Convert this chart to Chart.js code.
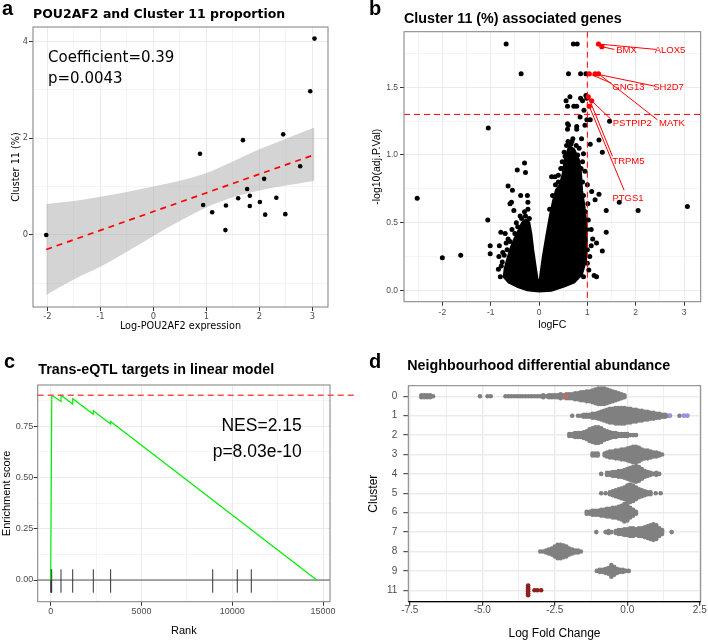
<!DOCTYPE html>
<html>
<head>
<meta charset="utf-8">
<title>POU2AF2 / Cluster 11 figure</title>
<script src="https://cdn.jsdelivr.net/npm/chart.js@4.4.1/dist/chart.umd.min.js"></script>
<style>
  html, body { margin:0; padding:0; background:#ffffff; }
  #fig { position:relative; width:708px; height:641px; overflow:hidden; background:#fff; }
  #fig canvas { position:absolute; }
</style>
</head>
<body>
<div id="fig">
  <canvas id="panelA" width="354" height="340" style="left:0px;top:0px;width:354px;height:340px"></canvas>
  <canvas id="panelB" width="354" height="340" style="left:354px;top:0px;width:354px;height:340px"></canvas>
  <canvas id="panelC" width="354" height="301" style="left:0px;top:340px;width:354px;height:301px"></canvas>
  <canvas id="panelD" width="354" height="301" style="left:354px;top:340px;width:354px;height:301px"></canvas>
</div>
<script>
// ================= DATA =================
// ---- Panel a: POU2AF2 vs Cluster 11 proportion ----
const aExpr = [-2.02, 0.88, 1.69, 2.45, 2.96, 3.04, 2.77, 2.09, 1.77, 1.82, 1.60, 2.32, 0.94, 1.37, 1.82, 2.01, 1.11, 2.11, 2.49, 1.36];
const aProp = [0.00, 1.68, 1.96, 2.08, 2.97, 4.06, 1.42, 1.16, 0.95, 0.81, 0.76, 0.77, 0.62, 0.61, 0.60, 0.68, 0.47, 0.42, 0.43, 0.10];
const aFitX = [-2.02, 3.04];
const aFitY = [-0.30, 1.66];
const aBandX  = [-2.02, -1.5, -1, -0.5, 0, 0.5, 1, 1.5, 2, 2.5, 3.04];
const aBandHi = [0.64, 0.70, 0.79, 0.89, 1.00, 1.12, 1.28, 1.52, 1.77, 1.99, 2.22];
const aBandLo = [-1.24, -0.92, -0.66, -0.35, -0.02, 0.29, 0.57, 0.78, 0.92, 1.02, 1.12];
const aXGrid = [-2, -1.5, -1, -0.5, 0, 0.5, 1, 1.5, 2, 2.5, 3];
const aXTicks = [-2, -1, 0, 1, 2, 3];
const aYGrid = [-1, 0, 1, 2, 3, 4];
const aYTicks = [0, 2, 4];

// ---- Panel b: volcano ----
const volcFC = [-0.68, 0.71, 0.79, -0.37, 0.61, 0.86, 0.97, -1.05, 0.56, 0.64, 0.59, 0.72, 0.78, 0.86, 0.90, 0.97, 0.93, 0.99,
  0.59, 0.59, 0.85, 0.78, 0.95, 1.06, 1.46, 1.24, 0.57, 0.77, 0.92, 1.06, 1.31, 0.54, 0.61, 0.78, 0.99, 0.70, 0.88,
  0.45, 0.40, 0.26, 0.33, 0.95, 1.00, 1.24, 1.09, 1.16, 1.01, 1.39, 1.66, 2.05, 3.07, 1.39, 1.31, 1.08, 1.08, 1.19,
  1.14, 1.19, 1.05, 1.02, 1.11, 1.03, 0.48, 0.66, 0.83, 0.90, 0.60,
  -2.52, -2.00, -1.62, -1.06, -1.01, -1.01, -0.83, -0.79, -0.84, -0.64, -0.60, -0.45, -0.30, -0.28, -0.38, -0.55,
  -0.24, -0.23, -0.23, -0.39, -0.57, -0.52, -0.70, -0.82, -0.76, -0.64, -0.75, -0.68, -0.47, -0.56, -0.30,
  -0.80, -0.78, -0.72, -0.66, -0.60, -0.50, -0.44, -0.36, -0.28, -0.20,
  0.92, 1.00, 1.00, 0.99, 0.96, 0.92, 0.90, 0.87, 0.80, 0.68, 0.60, 0.52, 0.47, 0.40, 0.34, 0.28, 0.22];
const volcP = [1.82, 1.82, 1.82, 1.60, 1.60, 1.60, 1.60, 1.20, 1.40, 1.43, 1.36, 1.36, 1.36, 1.42, 1.40, 1.44, 1.33, 1.42,
  1.23, 1.19, 1.28, 1.19, 1.22, 1.26, 1.25, 1.11, 1.07, 1.07, 1.01, 1.08, 1.02, 0.99, 1.22, 1.21, 1.26, 1.12, 1.12,
  0.90, 0.85, 0.84, 0.84, 0.88, 0.78, 0.71, 0.73, 0.67, 0.64, 0.59, 0.65, 0.59, 0.62, 0.43, 0.29, 0.45, 0.33, 0.35,
  0.11, 0.10, 0.25, 0.52, 0.38, 0.15, 0.95, 1.08, 1.05, 0.95, 1.00,
  0.68, 0.24, 0.26, 0.52, 0.33, 0.27, 0.25, 0.43, 0.155, 0.77, 0.64, 0.89, 0.94, 0.87, 0.70, 0.74,
  0.70, 0.65, 0.60, 0.55, 0.65, 0.59, 0.42, 0.33, 0.21, 0.38, 0.28, 0.35, 0.50, 0.45, 0.58,
  0.10, 0.18, 0.26, 0.30, 0.36, 0.42, 0.47, 0.53, 0.55, 0.53,
  0.10, 0.20, 0.30, 0.45, 0.58, 0.70, 0.80, 0.90, 1.00, 1.10, 1.10, 1.02, 0.90, 0.80, 0.78, 0.70, 0.60];
// outline of the dense, fully overlapping mass of genes near logFC 0
const coreFC = [0.00, 0.25, 0.50, 0.72, 0.88, 0.96, 0.98, 0.97, 0.93, 0.88, 0.86, 0.82, 0.72, 0.63, 0.55, 0.50, 0.44, 0.36, 0.30, 0.24, 0.16, 0.09, 0.04, 0.015, -0.01, -0.04, -0.09, -0.13, -0.17, -0.21, -0.27, -0.34, -0.42, -0.50, -0.57, -0.64, -0.70, -0.72, -0.62, -0.45, -0.25, 0.00];
const coreP  = [-0.005, 0.00, 0.03, 0.06, 0.12, 0.22, 0.35, 0.50, 0.62, 0.74, 0.86, 0.96, 1.04, 1.06, 0.98, 0.86, 0.78, 0.74, 0.66, 0.56, 0.40, 0.25, 0.12, 0.05, 0.04, 0.08, 0.20, 0.30, 0.42, 0.50, 0.52, 0.50, 0.44, 0.38, 0.32, 0.24, 0.16, 0.10, 0.06, 0.03, 0.005, -0.005];
const geneName = ['ALOX5', 'BMX', 'GNG13', 'SH2D7', 'MATK', 'PSTPIP2', 'TRPM5', 'PTGS1'];
const geneFC   = [1.23, 1.30, 1.04, 1.16, 1.23, 1.09, 1.02, 1.04];
const geneP    = [1.82, 1.80, 1.60, 1.60, 1.60, 1.40, 1.43, 1.36];
const fcCut = 1;
const sigCut = 1.3;
const bXGrid = [-2.5, -2, -1.5, -1, -0.5, 0, 0.5, 1, 1.5, 2, 2.5, 3];
const bXTicks = [-2, -1, 0, 1, 2, 3];
const bYGrid = [0, 0.25, 0.5, 0.75, 1, 1.25, 1.5, 1.75];
const bYTicks = [0, 0.5, 1, 1.5];

// ---- Panel c: running enrichment score ----
const esRank  = [0, 60, 567, 567, 1211, 1211, 2346, 2346, 3300, 3300, 14650];
const esScore = [0, 0.900, 0.870, 0.900, 0.857, 0.883, 0.807, 0.825, 0.760, 0.772, 0.0];
const hitRank = [5, 30, 55, 567, 1211, 2346, 3300, 8920, 10275, 11046];
const cXGrid = [0, 2500, 5000, 7500, 10000, 12500, 15000];
const cXTicks = [0, 5000, 10000, 15000];
const cYGrid = [0, 0.125, 0.25, 0.375, 0.5, 0.625, 0.75, 0.875];
const cYTicks = [0, 0.25, 0.5, 0.75];

// ---- Panel d: neighbourhood log fold change per cluster ([logFC, number of neighbourhoods]) ----
const dClusters = ['0', '1', '2', '3', '4', '5', '6', '7', '8', '9', '11'];
const nh0 = [[-7.1,2],[-7.0,2],[-6.9,2],[-6.8,2],[-6.7,1],[-5.08,1],[-4.82,1],[-4.71,1],[-4.2,1],[-4.1,1],[-4.0,1],[-3.9,1],[-3.8,1],[-3.7,1],[-3.6,1],[-3.5,1],[-3.4,1],[-3.3,1],[-3.2,1],[-3.1,1],[-3.0,1],[-2.9,2],[-2.8,1],[-2.7,2],[-2.6,2],[-2.5,2],[-2.4,2],[-2.3,3],[-2.2,2],[-2.1,3],[-2.0,3],[-1.9,3],[-1.8,4],[-1.7,4],[-1.6,5],[-1.5,5],[-1.4,6],[-1.3,6],[-1.2,7],[-1.1,8],[-1.0,9],[-0.9,9],[-0.8,9],[-0.7,8],[-0.6,7],[-0.5,6],[-0.4,5],[-0.3,4],[-0.2,3],[-0.1,2]];
const nh1 = [[-1.9,1],[-1.7,1],[-1.6,1],[-1.5,2],[-1.4,2],[-1.3,2],[-1.2,3],[-1.1,3],[-1.0,4],[-0.9,5],[-0.8,6],[-0.7,7],[-0.6,8],[-0.5,8],[-0.4,9],[-0.3,9],[-0.2,9],[-0.1,9],[0.0,8],[0.1,8],[0.2,7],[0.3,7],[0.4,6],[0.5,6],[0.6,5],[0.7,5],[0.8,4],[0.9,4],[1.0,3],[1.1,3],[1.2,2],[1.3,2],[1.4,1],[1.8,1]];
const nh2 = [[-2.0,2],[-1.9,2],[-1.8,3],[-1.7,3],[-1.6,3],[-1.5,4],[-1.4,5],[-1.3,7],[-1.2,8],[-1.1,9],[-1.0,9],[-0.9,8],[-0.8,6],[-0.7,5],[-0.6,4],[-0.5,3],[-0.4,3],[-0.3,2],[-0.2,2],[-0.1,2],[0.0,2],[0.1,1],[0.2,1],[0.3,1]];
const nh3 = [[-1.2,2],[-1.1,2],[-1.02,2],[-0.78,2],[-0.7,3],[-0.6,4],[-0.5,4],[-0.4,5],[-0.3,5],[-0.2,6],[-0.1,6],[0.0,7],[0.1,8],[0.2,9],[0.3,9],[0.4,8],[0.5,6],[0.6,5],[0.7,5],[0.8,4],[0.9,3],[1.0,3],[1.1,2],[1.2,1]];
const nh4 = [[-0.9,1],[-0.7,2],[-0.6,2],[-0.5,3],[-0.4,3],[-0.3,4],[-0.2,4],[-0.1,5],[0.0,6],[0.1,7],[0.2,8],[0.3,9],[0.4,8],[0.5,6],[0.6,4],[0.7,3],[0.8,2],[0.9,1],[1.0,2],[1.1,1]];
const nh5 = [[-0.9,1],[-0.75,1],[-0.6,2],[-0.5,3],[-0.4,4],[-0.3,5],[-0.2,6],[-0.1,7],[0.0,9],[0.1,10],[0.2,9],[0.3,7],[0.4,5],[0.5,4],[0.6,3],[0.7,2],[0.8,2],[0.98,1],[1.15,1]];
const nh6 = [[-1.4,2],[-1.3,2],[-1.2,3],[-1.1,3],[-1.0,3],[-0.9,4],[-0.8,4],[-0.7,5],[-0.6,5],[-0.5,6],[-0.4,6],[-0.3,7],[-0.2,8],[-0.1,10],[0.0,9],[0.1,6],[0.2,4],[0.3,2]];
const nh7 = [[-1.07,1],[-0.75,1],[-0.65,2],[-0.55,1],[-0.4,2],[-0.3,3],[-0.2,3],[-0.1,4],[0.0,4],[0.1,5],[0.2,5],[0.3,4],[0.4,5],[0.5,5],[0.6,6],[0.7,7],[0.8,8],[0.9,9],[1.0,8],[1.1,5],[1.2,3],[1.53,1]];
const nh8 = [[-3.0,1],[-2.9,1],[-2.8,2],[-2.7,3],[-2.6,4],[-2.5,6],[-2.4,8],[-2.3,8],[-2.2,7],[-2.1,6],[-2.0,4],[-1.9,3],[-1.8,2],[-1.7,2],[-1.6,1]];
const nh9 = [[-1.05,1],[-0.95,2],[-0.85,2],[-0.75,3],[-0.65,4],[-0.55,7],[-0.45,5],[-0.35,3],[-0.25,2],[-0.15,2],[-0.05,1],[0.05,1]];
const nh11 = [[-3.42,6],[-3.2,1],[-3.1,1],[-2.97,1]];
const nhDepleted0 = [-2.12];           // highlighted neighbourhood in cluster 0
const nhEnriched1 = [1.47, 1.95, 2.07]; // highlighted neighbourhoods in cluster 1
const dXGrid = [-7.5, -6.25, -5, -3.75, -2.5, -1.25, 0, 1.25, 2.5];
const dXTicks = [-7.5, -5, -2.5, 0, 2.5];

// ================= HELPERS =================
const SANS = '"Liberation Sans", Arial, Helvetica, sans-serif';
const DEJA = '"DejaVu Sans", sans-serif';
const near = (a, b) => Math.abs(a - b) < 1e-6;
const inList = (v, list) => list.some(m => near(m, v));
const tv = c => (c && c.tick) ? c.tick.value : NaN;
const pairs = (xs, ys) => xs.map((x, i) => ({ x, y: ys[i] }));

function axis(o) {
  return {
    type: 'linear', position: o.position, min: o.min, max: o.max, reverse: !!o.reverse,
    afterBuildTicks: s => { s.ticks = o.grid.map(v => ({ value: v })); },
    afterFit: s => { if (o.position === 'left') s.width = o.size; else s.height = o.size; },
    ticks: {
      autoSkip: false, maxRotation: 0, minRotation: 0, padding: o.labelPad,
      color: o.labelColor || '#4d4d4d', font: o.font,
      callback: v => inList(v, o.labels) ? o.fmt(v) : ''
    },
    grid: {
      color: o.gridColor || '#ebebeb',
      lineWidth: c => inList(tv(c), o.labels) ? o.majorW : o.minorW,
      drawTicks: true, tickLength: o.tickLen, tickWidth: 1,
      tickColor: c => inList(tv(c), o.labels) ? (o.tickColor || '#333333') : 'rgba(0,0,0,0)'
    },
    border: { display: false },
    title: { display: true, text: o.title, color: '#000000', font: o.titleFont, padding: o.titlePad }
  };
}

function textPlugin(items) {
  return {
    id: 'panelText',
    afterDraw(chart) {
      const ctx = chart.ctx;
      ctx.save();
      items.forEach(it => {
        ctx.font = it.font;
        ctx.fillStyle = it.color || '#000000';
        ctx.textAlign = it.align || 'left';
        ctx.textBaseline = it.baseline || 'alphabetic';
        ctx.fillText(it.text, it.x, it.y);
      });
      ctx.restore();
    }
  };
}

function framePlugin(color) {
  return {
    id: 'panelFrame',
    afterDraw(chart) {
      const { ctx, chartArea: a } = chart;
      ctx.save();
      ctx.strokeStyle = color;
      ctx.lineWidth = 1;
      ctx.strokeRect(a.left, a.top, a.right - a.left, a.bottom - a.top);
      ctx.restore();
    }
  };
}

const base = {
  responsive: false, animation: false, events: [],
  plugins: { legend: { display: false }, tooltip: { enabled: false } }
};

// ================= PANEL A =================
new Chart(document.getElementById('panelA'), {
  type: 'scatter',
  data: {
    datasets: [
      { data: pairs(aExpr, aProp), pointRadius: 2.3, backgroundColor: '#000000', borderWidth: 0 },
      { data: pairs(aFitX, aFitY), showLine: true, pointRadius: 0, borderColor: '#ff0000', borderWidth: 1.7, borderDash: [6, 5] },
      { data: pairs(aBandX, aBandHi), showLine: true, pointRadius: 0, borderWidth: 0, borderColor: 'rgba(0,0,0,0)',
        backgroundColor: 'rgba(153,153,153,0.42)', fill: '+1', cubicInterpolationMode: 'monotone' },
      { data: pairs(aBandX, aBandLo), showLine: true, pointRadius: 0, borderWidth: 0, borderColor: 'rgba(0,0,0,0)',
        cubicInterpolationMode: 'monotone' }
    ]
  },
  options: Object.assign({}, base, {
    layout: { padding: { left: 0, top: 27, right: 26, bottom: 0 } },
    scales: {
      x: axis({ position: 'bottom', min: -2.27, max: 3.295, grid: aXGrid, labels: aXTicks, fmt: v => String(v),
        size: 33, labelPad: 1, tickLen: 4, majorW: 1, minorW: 0.5,
        font: { family: DEJA, size: 8.3 }, title: 'Log-POU2AF2 expression',
        titleFont: { family: DEJA, size: 9.7 }, titlePad: { top: 0, bottom: 8.2 } }),
      y: axis({ position: 'left', min: -1.49, max: 4.30, grid: aYGrid, labels: aYTicks, fmt: v => String(v),
        size: 33, labelPad: 1, tickLen: 4, majorW: 1, minorW: 0.5,
        font: { family: DEJA, size: 8.3 }, title: 'Cluster 11 (%)',
        titleFont: { family: DEJA, size: 9.7 }, titlePad: { top: 10.2, bottom: 0 } })
    }
  }),
  plugins: [framePlugin('#7f7f7f'), textPlugin([
    { text: 'a', x: 2, y: 15, font: 'bold 20px ' + SANS },
    { text: 'POU2AF2 and Cluster 11 proportion', x: 33, y: 18.3, font: 'bold 12.5px ' + DEJA },
    { text: 'Coefficient=0.39', x: 48, y: 61.7, font: '15px ' + DEJA },
    { text: 'p=0.0043', x: 48, y: 83, font: '15px ' + DEJA }
  ])]
});

// ================= PANEL B =================
const geneLabelPos = { // label anchor (text centre) and segment end, in data units
  ALOX5:   { lx: 2.71, ly: 1.77, ex: 2.42, ey: 1.78 },
  BMX:     { lx: 1.81, ly: 1.77, ex: 1.56, ey: 1.78 },
  GNG13:   { lx: 1.85, ly: 1.50, ex: 1.50, ey: 1.53 },
  SH2D7:   { lx: 2.68, ly: 1.50, ex: 2.38, ey: 1.51 },
  MATK:    { lx: 2.75, ly: 1.23, ex: 2.45, ey: 1.26 },
  PSTPIP2: { lx: 1.93, ly: 1.23, ex: 1.50, ey: 1.26 },
  TRPM5:   { lx: 1.85, ly: 0.95, ex: 1.52, ey: 0.99 },
  PTGS1:   { lx: 1.84, ly: 0.68, ex: 1.76, ey: 0.74 }
};
new Chart(document.getElementById('panelB'), {
  type: 'scatter',
  data: {
    datasets: [
      { data: pairs(geneFC, geneP), pointRadius: 2.6, backgroundColor: '#ff0000', borderWidth: 0 },
      { data: pairs(volcFC, volcP), pointRadius: 2.5, backgroundColor: '#000000', borderWidth: 0 },
      { data: pairs(coreFC, coreP), showLine: true, fill: 'shape', backgroundColor: '#000000', borderColor: '#000000',
        borderWidth: 3, borderJoinStyle: 'round', pointRadius: 0, tension: 0 }
    ]
  },
  options: Object.assign({}, base, {
    layout: { padding: { left: 0, top: 31.7, right: 7.3, bottom: 0 } },
    scales: {
      x: axis({ position: 'bottom', min: -2.793, max: 3.345, grid: bXGrid, labels: bXTicks, fmt: v => String(v),
        size: 38.3, labelPad: 2, tickLen: 4, majorW: 1, minorW: 0.5,
        font: { family: SANS, size: 8.5 }, title: 'logFC',
        titleFont: { family: SANS, size: 10.5 }, titlePad: { top: 0, bottom: 8.7 } }),
      y: axis({ position: 'left', min: -0.084, max: 1.911, grid: bYGrid, labels: bYTicks, fmt: v => v.toFixed(1),
        size: 50, labelPad: 2, tickLen: 4, majorW: 1, minorW: 0.5,
        font: { family: SANS, size: 8.5 }, title: '-log10(adj.P.Val)',
        titleFont: { family: SANS, size: 10.5 }, titlePad: { top: 16.7, bottom: 0 } })
    }
  }),
  plugins: [{
    id: 'volcanoMarks',
    afterDatasetsDraw(chart) {
      const { ctx, chartArea: a, scales: { x, y } } = chart;
      ctx.save();
      ctx.strokeStyle = '#ff0000';
      ctx.lineWidth = 1;
      ctx.setLineDash([6, 4]);
      const xv = x.getPixelForValue(fcCut), yv = y.getPixelForValue(sigCut);
      ctx.beginPath(); ctx.moveTo(xv, a.top); ctx.lineTo(xv, a.bottom); ctx.stroke();
      ctx.beginPath(); ctx.moveTo(a.left, yv); ctx.lineTo(a.right, yv); ctx.stroke();
      ctx.setLineDash([]);
      geneName.forEach((g, i) => {
        const p = geneLabelPos[g];
        ctx.beginPath();
        ctx.moveTo(x.getPixelForValue(geneFC[i]), y.getPixelForValue(geneP[i]));
        ctx.lineTo(x.getPixelForValue(p.ex), y.getPixelForValue(p.ey));
        ctx.stroke();
      });
      ctx.fillStyle = '#ff0000';
      ctx.font = '9.5px ' + SANS;
      ctx.textAlign = 'center';
      ctx.textBaseline = 'middle';
      geneName.forEach(g => {
        const p = geneLabelPos[g];
        ctx.fillText(g, x.getPixelForValue(p.lx), y.getPixelForValue(p.ly));
      });
      ctx.restore();
    }
  }, framePlugin('#7f7f7f'), textPlugin([
    { text: 'b', x: 15, y: 15, font: 'bold 20px ' + SANS },
    { text: 'Cluster 11 (%) associated genes', x: 50, y: 22.5, font: 'bold 14.3px ' + SANS }
  ])]
});

// ================= PANEL C =================
const esPeak = Math.max(...esScore);
new Chart(document.getElementById('panelC'), {
  type: 'scatter',
  data: {
    datasets: [
      { data: pairs(esRank, esScore), showLine: true, pointRadius: 0, borderColor: '#00ee00', borderWidth: 1.2, tension: 0 },
      { data: hitRank.map(r => ({ x: r, y: -0.005 })), pointStyle: 'line', rotation: 90, pointRadius: 11.7,
        borderColor: '#333333', backgroundColor: '#333333', borderWidth: 1 }
    ]
  },
  options: Object.assign({}, base, {
    layout: { padding: { left: 0, top: 45, right: 24, bottom: 0 } },
    scales: {
      x: axis({ position: 'bottom', min: -716, max: 15380, grid: cXGrid, labels: cXTicks, fmt: v => String(v),
        size: 39.3, labelPad: 0.5, tickLen: 4, majorW: 1, minorW: 0.5,
        font: { family: SANS, size: 9 }, title: 'Rank',
        titleFont: { family: SANS, size: 11 }, titlePad: { top: 0, bottom: 3.7 } }),
      y: axis({ position: 'left', min: -0.1057, max: 0.950, grid: cYGrid, labels: cYTicks, fmt: v => v.toFixed(2),
        size: 37.7, labelPad: 0.5, tickLen: 4, majorW: 1, minorW: 0.5,
        font: { family: SANS, size: 9 }, title: 'Enrichment score',
        titleFont: { family: SANS, size: 11 }, titlePad: { top: 0, bottom: 0 } })
    }
  }),
  plugins: [{
    id: 'gseaLines',
    beforeDatasetsDraw(chart) {
      const { ctx, chartArea: a, scales: { y } } = chart;
      const y0 = y.getPixelForValue(0);
      ctx.save();
      ctx.strokeStyle = '#555555';
      ctx.lineWidth = 1;
      ctx.beginPath(); ctx.moveTo(a.left, y0); ctx.lineTo(a.right, y0); ctx.stroke();
      ctx.restore();
    },
    afterDraw(chart) {
      const { ctx, chartArea: a, scales: { y } } = chart;
      const yp = y.getPixelForValue(esPeak);
      ctx.save();
      ctx.strokeStyle = '#ff4d4d';
      ctx.lineWidth = 1.5;
      ctx.setLineDash([6, 4]);
      ctx.beginPath(); ctx.moveTo(a.left, yp); ctx.lineTo(chart.width, yp); ctx.stroke();
      ctx.restore();
    }
  }, framePlugin('#7f7f7f'), textPlugin([
    { text: 'c', x: 4, y: 28.3, font: 'bold 20px ' + SANS },
    { text: 'Trans-eQTL targets in linear model', x: 38.3, y: 34, font: 'bold 14.3px ' + SANS },
    { text: 'NES=2.15', x: 301.7, y: 91, font: '17.5px ' + SANS, align: 'right' },
    { text: 'p=8.03e-10', x: 301.7, y: 116.7, font: '17.5px ' + SANS, align: 'right' }
  ])]
});

// ================= PANEL D =================
const SWARM_STEP = 0.1; // vertical spacing of stacked neighbourhoods (category units)
function swarm(bins, row) {
  const out = [];
  bins.forEach(([v, n]) => {
    for (let k = 0; k < n; k++) out.push({ x: v, y: row + (k - (n - 1) / 2) * SWARM_STEP });
  });
  return out;
}
const grayBins = [nh0, nh1, nh2, nh3, nh4, nh5, nh6, nh7, nh8, nh9];
const grayPts = [];
grayBins.forEach((b, row) => grayPts.push(...swarm(b, row)));
const row11 = dClusters.indexOf('11');

new Chart(document.getElementById('panelD'), {
  type: 'scatter',
  data: {
    datasets: [
      { data: nhEnriched1.map(v => ({ x: v, y: 1 })), pointRadius: 2.4, backgroundColor: '#9a8fe0', borderWidth: 0 },
      { data: nhDepleted0.map(v => ({ x: v, y: 0 })), pointRadius: 2.4, backgroundColor: '#d0675a', borderWidth: 0 },
      { data: swarm(nh11, row11), pointRadius: 2.3, backgroundColor: '#8e2020', borderWidth: 0 },
      { data: grayPts, pointRadius: 2.3, backgroundColor: '#808080', borderWidth: 0 }
    ]
  },
  options: Object.assign({}, base, {
    layout: { padding: { left: 0, top: 45.7, right: 7.3, bottom: 0 } },
    scales: {
      x: axis({ position: 'bottom', min: -7.552, max: 2.531, grid: dXGrid, labels: dXTicks, fmt: v => v.toFixed(1),
        size: 39.3, labelPad: -1, tickLen: 4, majorW: 1.4, minorW: 0.8, tickColor: '#000000',
        font: { family: SANS, size: 10 }, title: 'Log Fold Change',
        titleFont: { family: SANS, size: 12 }, titlePad: { top: 0, bottom: 0.5 } }),
      y: axis({ position: 'left', min: -0.546, max: 10.588, reverse: true,
        grid: dClusters.map((c, i) => i), labels: dClusters.map((c, i) => i), fmt: v => dClusters[v],
        size: 54.3, labelPad: 6, tickLen: 5, majorW: 1.4, minorW: 0.8,
        font: { family: SANS, size: 10 }, title: 'Cluster',
        titleFont: { family: SANS, size: 12 }, titlePad: { top: 12.8, bottom: 0 } })
    }
  }),
  plugins: [framePlugin('#7f7f7f'), {
    id: 'bottomAxisLine',
    afterDraw(chart) {
      const { ctx, chartArea: a } = chart;
      ctx.save();
      ctx.strokeStyle = '#000000';
      ctx.lineWidth = 1.2;
      ctx.beginPath(); ctx.moveTo(a.left, a.bottom); ctx.lineTo(a.right, a.bottom); ctx.stroke();
      ctx.restore();
    }
  }, textPlugin([
    { text: 'd', x: 15, y: 28.3, font: 'bold 20px ' + SANS },
    { text: 'Neighbourhood differential abundance', x: 53.3, y: 30, font: 'bold 14.3px ' + SANS }
  ])]
});
</script>
</body>
</html>
